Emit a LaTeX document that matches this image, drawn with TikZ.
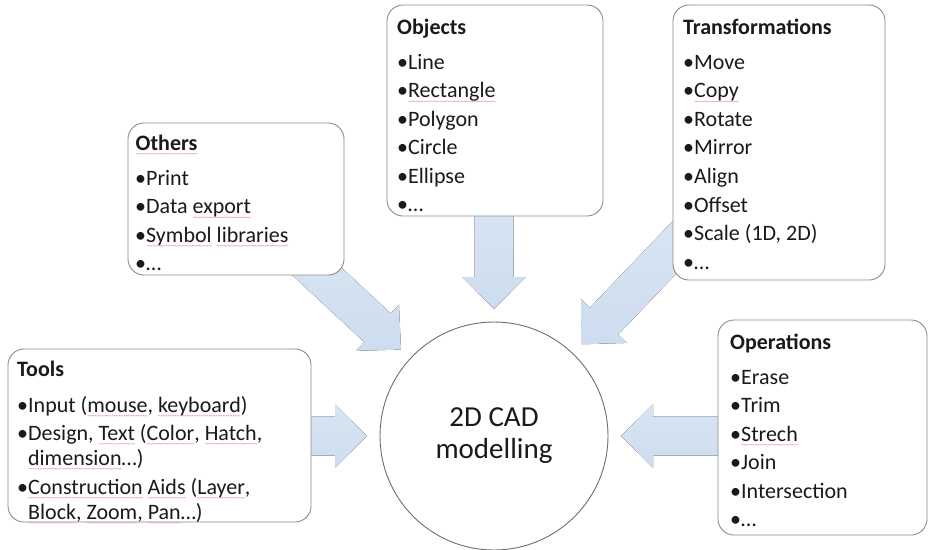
\documentclass[tikz,border=0pt]{standalone}
\usepackage{fontspec}
\setmainfont{Carlito}
\usetikzlibrary{calc,decorations.pathmorphing}

\definecolor{framegray}{HTML}{8C8C8C}
\definecolor{ringgray}{HTML}{6E6E6E}
\definecolor{arrowtop}{HTML}{D9E5F3}
\definecolor{arrowbot}{HTML}{CDDCEF}
\definecolor{spellred}{RGB}{240,150,160}
\definecolor{inkdark}{HTML}{1A1A1A}

\pgfdeclarelayer{background}
\pgfsetlayers{background,main}

% wavy proof-reading underline under a word
\newsavebox\spellbox
\newlength\spellwd
\newcommand\spellmark[1]{\sbox\spellbox{#1}\spellwd=\wd\spellbox
  \rlap{\usebox\spellbox}\rlap{\tikz[x=1pt,y=1pt,baseline=0pt]
    \draw[draw=spellred,line width=0.45pt,
          decorate,decoration={zigzag,segment length=2.4pt,amplitude=0.4pt}]
      (0,-3.8) -- (\spellwd,-3.8);}\hskip\spellwd\relax}

% block arrow from a tail point to a tip point
\newcommand\blockarrow[2]{%
  \coordinate (hb) at ($(#2)!32pt!(#1)$);
  \fill[arrowbody]
    ($(#1)!19.5pt!90:(#2)$) -- ($(hb)!19.5pt!-90:(#1)$) -- ($(hb)!31.5pt!-90:(#1)$)
    -- (#2) -- ($(hb)!31.5pt!90:(#1)$) -- ($(hb)!19.5pt!90:(#1)$)
    -- ($(#1)!19.5pt!-90:(#2)$) -- cycle;}

\begin{document}
\begin{tikzpicture}[x=1pt,y=-1pt,
  panel/.style={draw=framegray, line width=0.9pt, fill=white, rounded corners=16pt,
                inner sep=0pt, outer sep=0pt, anchor=north west},
  hub/.style={circle, draw=ringgray, line width=0.9pt, fill=white, minimum size=228pt,
              inner sep=0pt, align=center, text=inkdark,
              font=\fontsize{29pt}{32pt}\selectfont},
  txt/.style={inner sep=0pt, anchor=base west, text=inkdark,
              font=\fontsize{22pt}{26pt}\selectfont},
  hd/.style={txt, font=\fontsize{22pt}{26pt}\selectfont\bfseries},
  arrowbody/.style={top color=arrowtop, bottom color=arrowbot, draw=none}]

\useasboundingbox (0,0) rectangle (928,549);

% centre
\node[hub] (cad) at (494,436) {2D CAD\\modelling};

% panels
\node[panel, minimum width=216pt, minimum height=152pt] (others) at (128,123) {};
\node[panel, minimum width=216pt, minimum height=211pt] (objects) at (387,5) {};
\node[panel, minimum width=212pt, minimum height=275pt] (trf) at (673,5) {};
\node[panel, minimum width=303pt, minimum height=173pt] (tools) at (8,349) {};
\node[panel, minimum width=209pt, minimum height=215pt] (ops) at (718,320) {};

% arrow ends
\coordinate (objtail) at ($(cad.center |- objects.south)+(0,-17)$);
\coordinate (othtail) at ($(others.south east)+(-48,-23)$);
\coordinate (trftail) at ($(trf.south west)+(22,-54)$);
\coordinate (tooltail) at ($(cad.center -| tools.east)+(-12,0)$);
\coordinate (opstail) at ($(cad.center -| ops.west)+(12,0)$);
\foreach \n in {obj,oth,trf,tool,ops}
  \coordinate (\n tip) at ($(cad.center)!127pt!(\n tail)$);

\begin{pgfonlayer}{background}
  \blockarrow{objtail}{objtip}
  \blockarrow{othtail}{othtip}
  \blockarrow{trftail}{trftip}
  \blockarrow{tooltail}{tooltip}
  \blockarrow{opstail}{opstip}
\end{pgfonlayer}

% Others
\node[hd]  (oth0) at (135,150)   {\spellmark{Others}};
\node[txt] (oth1) at (135,185)   {•Print};
\node[txt] (oth2) at (135,213.5) {•Data \spellmark{export}};
\node[txt] (oth3) at (135,242)   {•\spellmark{Symbol} \spellmark{libraries}};
\node[txt] (oth4) at (135,270.5) {•…};

% Objects
\node[hd]  (obj0) at (397,34)    {Objects};
\node[txt] (obj1) at (397,69)    {•Line};
\node[txt] (obj2) at (397,97.5)  {•\spellmark{Rectangle}};
\node[txt] (obj3) at (397,126)   {•Polygon};
\node[txt] (obj4) at (397,154.5) {•Circle};
\node[txt] (obj5) at (397,183)   {•Ellipse};
\node[txt] (obj6) at (397,211.5) {•…};

% Transformations
\node[hd]  (trf0) at (683,34)    {Transformations};
\node[txt] (trf1) at (683,69)    {•Move};
\node[txt] (trf2) at (683,97.6)  {•\spellmark{Copy}};
\node[txt] (trf3) at (683,126.2) {•Rotate};
\node[txt] (trf4) at (683,154.8) {•Mirror};
\node[txt] (trf5) at (683,183.4) {•Align};
\node[txt] (trf6) at (683,212)   {•Offset};
\node[txt] (trf7) at (683,240.6) {•Scale (1D, 2D)};
\node[txt] (trf8) at (683,269.2) {•…};

% Tools
\node[hd]  (tool0) at (17,376) {Tools};
\node[txt] (tool1) at (17,412) {•Input (\spellmark{mouse}, \spellmark{keyboard})};
\node[txt] (tool2) at (17,440) {•Design, \spellmark{Text} (\spellmark{Color}, \spellmark{Hatch},};
\node[txt] (tool3) at (17,465) {\phantom{•}\spellmark{dimension}…)};
\node[txt] (tool4) at (17,494) {•\spellmark{Construction} \spellmark{Aids} (\spellmark{Layer},};
\node[txt] (tool5) at (17,519) {\phantom{•}\spellmark{Block}, \spellmark{Zoom}, \spellmark{Pan}…)};

% Operations
\node[hd]  (ops0) at (730,349)   {Operations};
\node[txt] (ops1) at (730,384)   {•Erase};
\node[txt] (ops2) at (730,412.5) {•Trim};
\node[txt] (ops3) at (730,441)   {•\spellmark{Strech}};
\node[txt] (ops4) at (730,469.5) {•Join};
\node[txt] (ops5) at (730,498)   {•Intersection};
\node[txt] (ops6) at (730,526.5) {•…};

\end{tikzpicture}
\end{document}
